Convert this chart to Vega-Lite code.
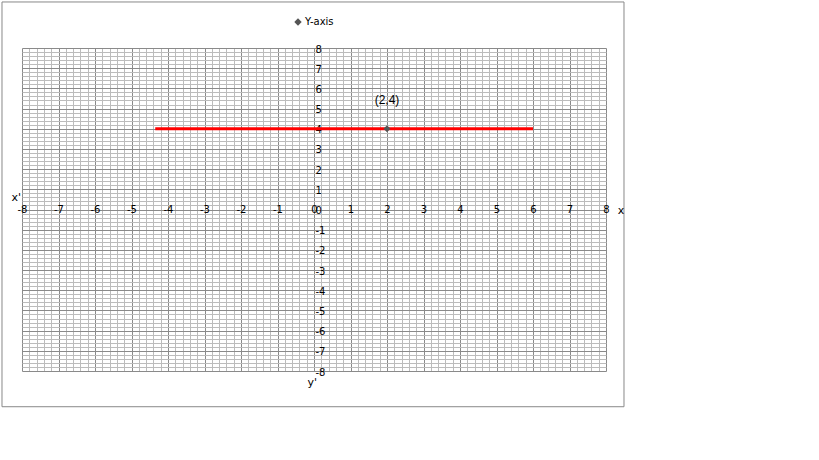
{
  "$schema": "https://vega.github.io/schema/vega-lite/v6.json",
  "width": 584,
  "height": 323,
  "autosize": {"type": "none"},
  "padding": {"left": 22, "top": 48, "right": 213, "bottom": 89},
  "background": "white",
  "config": {"view": {"stroke": null}, "font": "DejaVu Sans"},
  "encoding": {
    "x": {
      "field": "x", "type": "quantitative",
      "scale": {"domain": [-8, 8], "nice": false, "zero": false},
      "axis": {
        "title": null, "orient": "bottom", "offset": -161.5,
        "values": [-8,-7.8,-7.6,-7.4,-7.2,-7,-6.8,-6.6,-6.4,-6.2,-6,-5.8,-5.6,-5.4,-5.2,-5,-4.8,-4.6,-4.4,-4.2,-4,-3.8,-3.6,-3.4,-3.2,-3,-2.8,-2.6,-2.4,-2.2,-2,-1.8,-1.6,-1.4,-1.2,-1,-0.8,-0.6,-0.4,-0.2,0,0.2,0.4,0.6,0.8,1,1.2,1.4,1.6,1.8,2,2.2,2.4,2.6,2.8,3,3.2,3.4,3.6,3.8,4,4.2,4.4,4.6,4.8,5,5.2,5.4,5.6,5.8,6,6.2,6.4,6.6,6.8,7,7.2,7.4,7.6,7.8,8],
        "grid": true,
        "gridColor": {"condition": {"test": "abs(datum.value - round(datum.value)) < 0.01", "value": "#8a8a8a"}, "value": "#bcbcbc"},
        "gridWidth": 1,
        "domain": false, "ticks": false, "tickSize": 0,
        "labelExpr": "abs(datum.value - round(datum.value)) < 0.01 ? '' + round(datum.value) : ''",
        "labelBaseline": "middle", "labelAlign": "center", "labelPadding": 0,
        "labelFlush": false, "labelOverlap": false, "labelBound": false,
        "labelFont": "DejaVu Sans", "labelFontSize": 10, "labelColor": "#000000"
      }
    },
    "y": {
      "field": "y", "type": "quantitative",
      "scale": {"domain": [-8, 8], "nice": false, "zero": false},
      "axis": {
        "title": null, "orient": "right", "offset": -292,
        "values": [-8,-7.8,-7.6,-7.4,-7.2,-7,-6.8,-6.6,-6.4,-6.2,-6,-5.8,-5.6,-5.4,-5.2,-5,-4.8,-4.6,-4.4,-4.2,-4,-3.8,-3.6,-3.4,-3.2,-3,-2.8,-2.6,-2.4,-2.2,-2,-1.8,-1.6,-1.4,-1.2,-1,-0.8,-0.6,-0.4,-0.2,0,0.2,0.4,0.6,0.8,1,1.2,1.4,1.6,1.8,2,2.2,2.4,2.6,2.8,3,3.2,3.4,3.6,3.8,4,4.2,4.4,4.6,4.8,5,5.2,5.4,5.6,5.8,6,6.2,6.4,6.6,6.8,7,7.2,7.4,7.6,7.8,8],
        "grid": true,
        "gridColor": {"condition": {"test": "abs(datum.value - round(datum.value)) < 0.01", "value": "#8a8a8a"}, "value": "#bcbcbc"},
        "gridWidth": 1,
        "domain": false, "ticks": false, "tickSize": 0,
        "labelExpr": "abs(datum.value - round(datum.value)) < 0.01 ? '' + round(datum.value) : ''",
        "labelBaseline": "middle", "labelAlign": "left", "labelPadding": 1, "labelOffset": 1,
        "labelFlush": false, "labelOverlap": false, "labelBound": false,
        "labelFont": "DejaVu Sans", "labelFontSize": 10, "labelColor": "#000000"
      }
    }
  },
  "layer": [
    {
      "data": {"values": [{"x": -8.548, "x2": 8.493, "y": 10.28, "y2": -9.77}]},
      "mark": {"type": "rect", "fill": "transparent", "stroke": "#888888", "strokeWidth": 1, "clip": false},
      "encoding": {"x2": {"field": "x2"}, "y2": {"field": "y2"}}
    },
    {
      "data": {"values": [{"x": -4.35, "y": 4}, {"x": 6, "y": 4}]},
      "mark": {"type": "line", "color": "#ff0000", "strokeWidth": 3},
      "encoding": {}
    },
    {
      "data": {"values": [{"x": 2, "y": 4, "series": "Y-axis"}]},
      "mark": {"type": "point", "filled": true, "size": 50, "opacity": 1},
      "encoding": {
        "color": {"field": "series", "type": "nominal", "scale": {"domain": ["Y-axis"], "range": ["#555555"]},
          "legend": {"title": null, "orient": "none", "legendX": 271, "legendY": -31, "padding": 0, "labelFont": "DejaVu Sans", "labelFontSize": 10, "labelColor": "#000000", "symbolSize": 55, "labelOffset": 2}},
        "shape": {"field": "series", "type": "nominal", "scale": {"domain": ["Y-axis"], "range": ["diamond"]}}
      }
    },
    {
      "data": {"values": [{"x": 2, "y": 4, "label": "(2,4)"}]},
      "mark": {"type": "text", "dy": -29, "font": "Liberation Sans", "fontSize": 12, "color": "#000000"},
      "encoding": {"text": {"field": "label"}}
    },
    {
      "data": {"values": [
        {"x": -8.16, "y": 0.59, "label": "x'"},
        {"x": 8.41, "y": -0.05, "label": "x"},
        {"x": -0.05, "y": -8.59, "label": "y'"}
      ]},
      "mark": {"type": "text", "font": "DejaVu Sans", "fontSize": 11, "color": "#000000"},
      "encoding": {"text": {"field": "label"}}
    }
  ]
}
